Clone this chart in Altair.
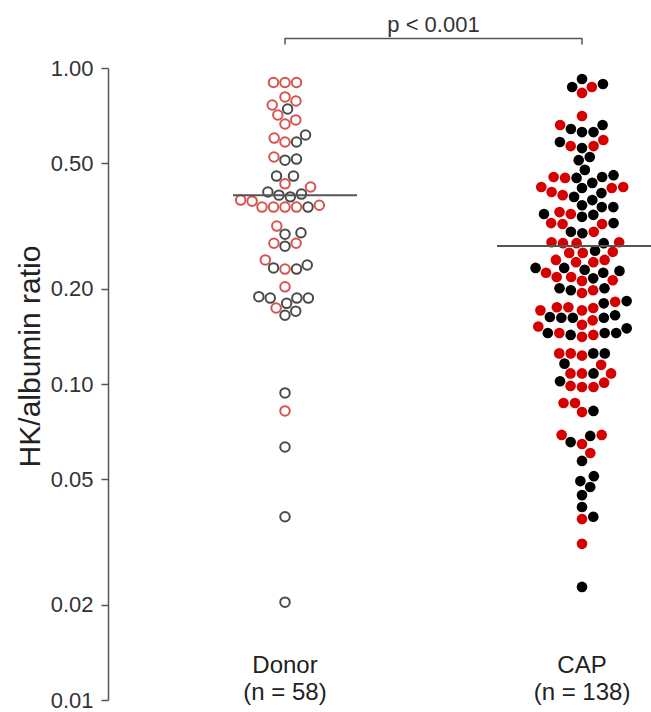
import altair as alt
import numpy as np
import pandas as pd

# ---------------- data ----------------
groups = ["Donor", "CAP"]

donor_values = [0.90, 0.90, 0.90,
                0.81, 0.786, 0.742, 0.764, 0.710, 0.665, 0.685,
                0.600, 0.583, 0.583, 0.614,
                0.523, 0.511, 0.515,
                0.455, 0.455,
                0.430, 0.420,
                0.391, 0.405, 0.396, 0.399,
                0.368, 0.363, 0.363, 0.363, 0.363, 0.363, 0.379, 0.382,
                0.316, 0.301, 0.298, 0.279, 0.273, 0.279,
                0.247, 0.231, 0.231, 0.233, 0.238,
                0.203, 0.187, 0.187, 0.187, 0.174, 0.165, 0.170, 0.180, 0.189,
                0.0937, 0.0822, 0.0632, 0.0380, 0.0204]
donor_codes = ["R", "R", "R",
               "R", "R", "K", "R", "R", "R", "R",
               "R", "R", "K", "K",
               "R", "K", "K",
               "K", "K",
               "R", "R",
               "K", "K", "K", "K",
               "R", "R", "R", "R", "K", "R", "R", "R",
               "R", "K", "K", "R", "K", "R",
               "R", "R", "K", "K", "K",
               "R", "K", "K", "K", "R", "K", "K", "K", "K",
               "K", "R", "K", "K", "K"]

cap_values = [0.890, 0.871, 0.923, 0.834, 0.871,
              0.705,
              0.660, 0.641, 0.627, 0.627, 0.660,
              0.583, 0.566, 0.558, 0.566, 0.592,
              0.523, 0.511,
              0.476, 0.452,
              0.458, 0.433, 0.417, 0.449, 0.420, 0.420, 0.449, 0.452, 0.417, 0.405, 0.396, 0.391, 0.382, 0.402,
              0.363, 0.368, 0.363, 0.345, 0.338, 0.350, 0.345, 0.343, 0.323, 0.321,
              0.323, 0.321, 0.303, 0.300, 0.303, 0.281, 0.281, 0.279, 0.279, 0.279,
              0.264, 0.260, 0.262, 0.260,
              0.247, 0.243, 0.247, 0.243,
              0.233, 0.225, 0.218, 0.216, 0.230, 0.225, 0.233, 0.218, 0.228,
              0.212, 0.213,
              0.201, 0.198, 0.201, 0.194, 0.198,
              0.182, 0.175, 0.174, 0.175, 0.180, 0.183,
              0.171, 0.165, 0.162, 0.162, 0.162, 0.159, 0.163, 0.171,
              0.154, 0.150, 0.145, 0.145, 0.143, 0.141, 0.143, 0.145, 0.145, 0.152,
              0.125, 0.123, 0.125, 0.125, 0.125,
              0.115, 0.116,
              0.108, 0.108, 0.108, 0.108,
              0.102, 0.0986, 0.0978, 0.0978, 0.101,
              0.0871, 0.0871, 0.0815, 0.0822,
              0.0690, 0.0655, 0.0646, 0.0685, 0.0690, 0.0605, 0.0571,
              0.0493, 0.0511, 0.0472, 0.0445, 0.0408, 0.0374, 0.0380,
              0.0312, 0.0228]
cap_codes = ["K", "R", "K", "R", "K",
             "R",
             "K", "K", "K", "K", "R",
             "K", "R", "K", "R", "R",
             "K", "K",
             "K", "K",
             "K", "K", "K", "K", "R", "R", "R", "R", "R", "R", "R", "K", "K", "K",
             "K", "K", "K", "R", "K", "R", "K", "K", "R", "R",
             "K", "R", "K", "K", "R", "R", "R", "R", "R", "K",
             "K", "R", "R", "R",
             "R", "R", "R", "R",
             "K", "K", "R", "K", "K", "R", "K", "R", "K",
             "R", "R",
             "K", "R", "K", "R", "K",
             "R", "R", "R", "R", "K", "K",
             "R", "K", "K", "K", "K", "R", "K", "R",
             "R", "K", "K", "R", "R", "R", "K", "K", "K", "R",
             "K", "R", "R", "K", "R",
             "R", "K",
             "R", "K", "R", "R",
             "K", "R", "R", "R", "R",
             "R", "R", "R", "K",
             "R", "K", "R", "K", "R", "R", "K",
             "K", "K", "K", "K", "K", "R", "K",
             "R", "K"]

p_label = "p < 0.001"
y_ticks = [0.01, 0.02, 0.05, 0.1, 0.2, 0.5, 1.0]
y_title = "HK/albumin ratio"

# ---------------- layout helpers ----------------
W, H = 543, 632                 # plot area in px
PX_PER_GROUP = 297.0            # distance between group centres in px
X_MIN = -177.0 / PX_PER_GROUP
X_MAX = (W - 177.0) / PX_PER_GROUP
Y_MIN, Y_MAX = 0.01, 1.0
DIAM = 11.5                     # collision distance for the swarm (px)


def swarm_offsets(values):
    """Beeswarm: place each point as close to the centre as possible."""
    span = np.log10(Y_MAX) - np.log10(Y_MIN)
    py = [(np.log10(Y_MAX) - np.log10(v)) / span * H for v in values]
    order = sorted(range(len(values)), key=lambda i: -py[i])
    placed = []
    xs = [0.0] * len(values)
    for i in order:
        cands = [0.0]
        for (xj, yj) in placed:
            dy = abs(py[i] - yj)
            if dy < DIAM:
                dx = np.sqrt(DIAM ** 2 - dy ** 2)
                cands += [xj + dx + 1e-6, xj - dx - 1e-6]
        cands.sort(key=lambda c: (abs(c), -c))
        for c in cands:
            if all((c - xj) ** 2 + (py[i] - yj) ** 2 >= DIAM ** 2 - 1e-3
                   for (xj, yj) in placed):
                xs[i] = c
                break
        placed.append((xs[i], py[i]))
    return [x / PX_PER_GROUP for x in xs]


donor_df = pd.DataFrame({"group": groups[0], "value": donor_values, "code": donor_codes})
donor_df["xpos"] = 0 + np.array(swarm_offsets(donor_values))
cap_df = pd.DataFrame({"group": groups[1], "value": cap_values, "code": cap_codes})
cap_df["xpos"] = 1 + np.array(swarm_offsets(cap_values))

mean_df = pd.DataFrame({
    "group": groups,
    "value": [float(np.mean(donor_values)), float(np.mean(cap_values))],
    "x_from": [0 - 52 / PX_PER_GROUP, 1 - 85 / PX_PER_GROUP],
    "x_to": [0 + 72 / PX_PER_GROUP, X_MAX],
})

label_df = pd.DataFrame({
    "xpos": [0, 1],
    "line1": groups,
    "line2": [f"(n = {len(donor_values)})", f"(n = {len(cap_values)})"],
})
bracket_df = pd.DataFrame({"xa": [0], "xb": [1], "mid": [0.5], "txt": [p_label]})
bracket_ends = pd.DataFrame({"xa": [0, 1]})

xs = alt.Scale(domain=[X_MIN, X_MAX], nice=False, zero=False)
ys = alt.Scale(type="log", domain=[Y_MIN, Y_MAX], nice=False)

y_axis = alt.Axis(values=y_ticks, format=".2f", grid=False,
                  tickSize=7, tickWidth=1.5, tickColor="#555",
                  domainWidth=1.5, domainColor="#555",
                  labelFontSize=22, labelColor="#333", labelPadding=8,
                  titleFontSize=30, titleFontWeight="normal", titleColor="#222",
                  titleX=-78, titleY=288, titleAngle=270,
                  titleAlign="center", titleBaseline="middle")


def yenc(field):
    return alt.Y(field, scale=ys, axis=y_axis, title=y_title)


donor_pts = alt.Chart(donor_df).mark_point(
    shape="circle", filled=False, strokeWidth=2, size=90, opacity=1
).encode(
    x=alt.X("xpos:Q", scale=xs, axis=None),
    y=yenc("value:Q"),
    stroke=alt.Stroke("code:N", scale=alt.Scale(domain=["R", "K"], range=["#d4544f", "#4a4a4a"]), legend=None),
)

cap_pts = alt.Chart(cap_df).mark_circle(size=113, opacity=1).encode(
    x=alt.X("xpos:Q", scale=xs, axis=None),
    y=yenc("value:Q"),
    color=alt.Color("code:N", scale=alt.Scale(domain=["R", "K"], range=["#d60000", "#000000"]), legend=None),
)

mean_lines = alt.Chart(mean_df).mark_rule(color="#555", strokeWidth=2, clip=True).encode(
    x=alt.X("x_from:Q", scale=xs, axis=None),
    x2="x_to:Q",
    y=yenc("value:Q"),
)

bracket = alt.Chart(bracket_df).mark_rule(color="#555", strokeWidth=1.5).encode(
    x=alt.X("xa:Q", scale=xs, axis=None), x2="xb:Q", y=alt.value(-29.5)
)
bracket_ticks = alt.Chart(bracket_ends).mark_rule(color="#555", strokeWidth=1.5).encode(
    x=alt.X("xa:Q", scale=xs, axis=None), y=alt.value(-30), y2=alt.value(-23.5)
)
p_text = alt.Chart(bracket_df).mark_text(fontSize=22, color="#333", baseline="alphabetic", align="center").encode(
    x=alt.X("mid:Q", scale=xs, axis=None), y=alt.value(-36), text="txt:N"
)

lab1 = alt.Chart(label_df).mark_text(fontSize=24, color="#222", baseline="alphabetic", align="center").encode(
    x=alt.X("xpos:Q", scale=xs, axis=None), y=alt.value(605), text="line1:N"
)
lab2 = alt.Chart(label_df).mark_text(fontSize=24, color="#222", baseline="alphabetic", align="center").encode(
    x=alt.X("xpos:Q", scale=xs, axis=None), y=alt.value(632), text="line2:N"
)

chart = alt.layer(
    donor_pts, cap_pts, mean_lines, bracket, bracket_ticks, p_text, lab1, lab2
).properties(
    width=W, height=H,
    autosize=alt.AutoSizeParams(type="none"),
    padding={"left": 108, "top": 68, "right": 0, "bottom": 12},
).configure(
    font="Liberation Sans", background="white"
).configure_view(strokeWidth=0)

chart.save("out.html", embed_options={"renderer": "svg", "actions": False})
